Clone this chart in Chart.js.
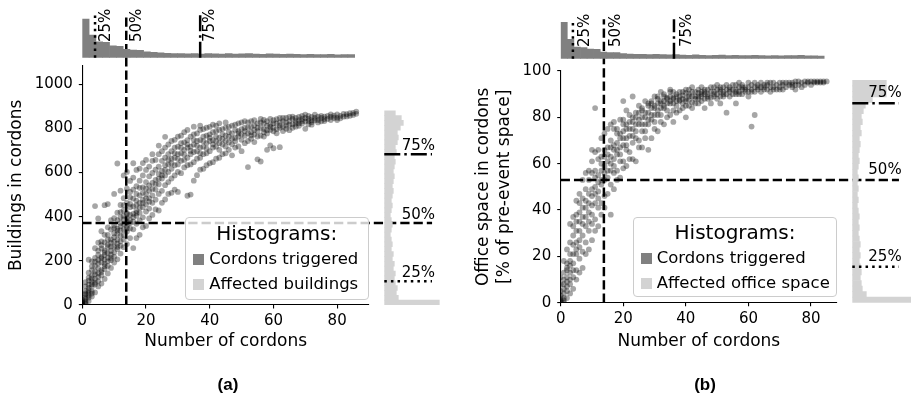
<!DOCTYPE html>
<html><head><meta charset="utf-8">
<script src="https://cdn.jsdelivr.net/npm/chart.js@4.4.1/dist/chart.umd.min.js"></script>
<style>
html,body{margin:0;padding:0;background:#fff;}
#wrap{position:relative;width:911px;height:404px;overflow:hidden;font-family:'DejaVu Sans',sans-serif;color:#000;}
canvas{position:absolute;left:0;top:0;}
.t{position:absolute;white-space:nowrap;line-height:1;font-size:15px;}
.rot{transform-origin:0 0;transform:rotate(-90deg);}
.leg{position:absolute;box-sizing:border-box;border:1px solid #ccc;border-radius:4px;background:rgba(255,255,255,0.8);}
.lt{position:absolute;white-space:nowrap;line-height:1;}
.patch{position:absolute;width:11px;height:11px;}
.cap{position:absolute;width:60px;text-align:center;font-family:'Liberation Sans',Arial,sans-serif;font-weight:bold;font-size:17px;line-height:1;}
</style></head><body><div id="wrap">
<canvas id="mainA" width="911" height="404"></canvas>
<canvas id="topA" width="911" height="404"></canvas>
<canvas id="rightA" width="911" height="404"></canvas>
<canvas id="mainB" width="911" height="404"></canvas>
<canvas id="topB" width="911" height="404"></canvas>
<canvas id="rightB" width="911" height="404"></canvas>

<div class="t rot" style="left:97.5px;top:41.7px;">25%</div>
<div class="t rot" style="left:129.2px;top:42px;">50%</div>
<div class="t rot" style="left:202.2px;top:42px;">75%</div>
<div class="t" style="left:401.7px;top:138.3px;">75%</div>
<div class="t" style="left:401.7px;top:206.8px;">50%</div>
<div class="t" style="left:401.7px;top:265.3px;">25%</div>

<div class="t rot" style="left:576.5px;top:46.7px;">25%</div>
<div class="t rot" style="left:607.5px;top:46.7px;">50%</div>
<div class="t rot" style="left:679.2px;top:46.7px;">75%</div>
<div class="t" style="left:868.3px;top:85.3px;">75%</div>
<div class="t" style="left:868.3px;top:162.3px;">50%</div>
<div class="t" style="left:868.3px;top:248.8px;">25%</div>

<div class="leg" style="left:185px;top:217px;width:183.5px;height:83px;"></div>
<div class="lt" style="left:185px;width:183.5px;text-align:center;top:223.1px;font-size:20px;">Histograms:</div>
<div class="patch" style="left:192.5px;top:253.5px;background:#808080;"></div>
<div class="lt" style="left:209.3px;top:250.7px;font-size:16.5px;">Cordons triggered</div>
<div class="patch" style="left:192.5px;top:278.5px;background:#d3d3d3;"></div>
<div class="lt" style="left:209.3px;top:275.7px;font-size:16.5px;">Affected buildings</div>

<div class="leg" style="left:633.3px;top:217.3px;width:203.4px;height:80px;"></div>
<div class="lt" style="left:633.3px;width:203.4px;text-align:center;top:222.4px;font-size:20px;">Histograms:</div>
<div class="patch" style="left:640.5px;top:252.5px;background:#808080;"></div>
<div class="lt" style="left:656.7px;top:249.7px;font-size:16.5px;">Cordons triggered</div>
<div class="patch" style="left:640.5px;top:277.5px;background:#d3d3d3;"></div>
<div class="lt" style="left:656.7px;top:274.7px;font-size:16.5px;">Affected office space</div>

<div class="cap" style="left:198px;top:375.6px;">(a)</div>
<div class="cap" style="left:675px;top:375.6px;">(b)</div>
</div>
<script>
// ---------------- data ----------------
const xTicks = [0, 20, 40, 60, 80];
const yTicksA = [0, 200, 400, 600, 800, 1000];
const yTicksB = [0, 20, 40, 60, 80, 100];

// buildings in cordons, listed per number of cordons (index = number of cordons)
const buildingsByCordons = [
 [0,4,9,18,2,12,25],
 [6,17,28,47,63,84,103,11,36,52],
 [18,43,57,78,92,124,146,205,33,66,110],
 [38,62,94,107,133,158,197,52,83,121,175],
 [57,93,118,152,177,213,257,448,101,139,196],
 [84,108,143,166,204,227,283,392,127,188,246],
 [97,134,158,193,218,256,288,334,149,212,271],
 [118,163,187,226,247,284,318,452,176,238,205],
 [143,177,214,236,273,297,352,457,198,262,318],
 [168,203,228,264,297,342,384,213,282,245],
 [192,218,263,287,324,348,393,503,238,307,361],
 [207,253,278,322,346,384,418,641,263,337,296],
 [233,268,313,338,372,397,453,518,288,357,421],
 [262,297,343,367,404,428,484,587,318,388,452],
 [276,333,358,394,417,463,527,603,348,412,376],
 [303,347,384,408,443,487,562,371,458,512],
 [258,343,377,413,447,523,577,642,398,482],
 [303,368,404,427,473,538,612,417,503,452],
 [318,383,418,463,497,563,618,442,531],
 [352,397,443,477,533,587,643,462,508],
 [358,423,457,503,557,612,657,483,528],
 [392,437,483,517,583,627,542,468],
 [408,463,497,553,598,653,683,526],
 [433,477,523,567,613,657,548],
 [428,503,547,593,627,683,722,572],
 [463,517,573,607,653,697,588],
 [478,543,587,633,667,713,762,612],
 [503,557,603,637,683,727,658],
 [508,573,617,663,697,743,642],
 [523,587,633,667,713,748,688],
 [512,603,637,683,717,763,662],
 [597,653,687,733,767,712],
 [623,657,703,737,783,682],
 [495,633,667,713,747,793,728],
 [500,637,683,717,763,698],
 [563,647,693,727,773,808,748],
 [588,663,697,743,777,722],
 [613,667,713,747,793,812,688],
 [617,683,717,763,797,742],
 [633,687,733,767,803,708],
 [642,697,743,773,807,758],
 [647,713,747,783,817,728],
 [663,717,763,787,813,742],
 [667,733,757,793,823,703],
 [683,727,773,797,752],
 [687,743,767,803,827,718],
 [703,737,783,807,762],
 [678,753,777,813,728],
 [713,757,793,817,742],
 [718,763,787,823,777],
 [697,773,797,827,748],
 [733,767,803,833,788],
 [625,743,777,803,827],
 [753,783,807,833,768],
 [738,793,813,837,772],
 [660,763,787,823,803],
 [650,767,803,827,843],
 [783,797,823,838,763],
 [703,777,813,833,792],
 [723,793,807,843,818],
 [710,787,823,837,803],
 [797,823,842,778],
 [715,803,827,847,813],
 [807,833,848,788],
 [813,827,847,798],
 [792,817,833,852],
 [818,843,853,803],
 [808,833,847,822],
 [823,837,852,812],
 [822,843,857,833],
 [798,832,847,862],
 [833,843,857,818],
 [817,837,852,828],
 [837,848,862],
 [838,853,827],
 [832,847,857],
 [842,853,833],
 [843,857],
 [838,852,863],
 [847,858],
 [848,863,838],
 [846,857],
 [853,866],
 [854,864],
 [857,869],
 [861,870],
 [866,876]
];

// office space in cordons [% of pre-event], per number of cordons
const officeByCordons = [
 [0,1,3,5,8,2,11,0.5],
 [0,2,6,8,13,18,4,10,1],
 [2,5,9,14,17,23,7,15,11],
 [4,8,13,16,21,26,34,10,18],
 [6,11,14,21,25,33,37,17,29],
 [10,14,21,26,31,38,44,23,35],
 [13,19,24,31,35,43,47,27,39],
 [15,22,29,34,41,45,53,37],
 [21,26,33,37,44,49,56,41],
 [23,31,35,43,47,53,57,39],
 [27,34,38,46,49,56,61,66,42],
 [31,36,43,47,54,57,65,84,50],
 [33,41,45,52,55,62,66,48],
 [38,43,51,53,60,63,71,57],
 [41,46,53,56,63,66,73,59],
 [47,54,57,64,67,75,61],
 [38,51,57,60,67,70,77,63],
 [49,56,59,66,68,75,78,62],
 [53,57,64,66,73,75,69],
 [54,61,64,71,73,79,67],
 [58,61,68,71,77,79,87,74],
 [59,66,68,75,77,83,71],
 [62,65,72,75,81,78],
 [62,69,72,78,80,89,75],
 [61,71,74,80,82,77],
 [67,70,77,79,85,82],
 [67,74,77,83,84,80],
 [71,74,80,82,87,77],
 [66,77,79,85,86,82],
 [71,79,81,86,87,84],
 [75,78,84,85,89,81],
 [74,81,83,88,89,86],
 [78,81,86,87,91,84],
 [77,84,85,89,90,87],
 [80,83,88,88.5,86],
 [81,86,87,91,92,89],
 [78,83,88,88.5,91,86],
 [82,85,89,90,87],
 [83,87,87.5,91,89],
 [84,86,89.5,91,88],
 [80,85,88,90.5,92,87],
 [85,87.5,90,92,89],
 [84,86.5,89,91,93],
 [86,89,91,88],
 [86,88,90.5,92,89],
 [87,89,91,93,90],
 [84,88,90,92,91],
 [88,90,92,89],
 [86,88.5,91,93],
 [89,91,93,90],
 [88,90,92,94],
 [86,89,91,93,92],
 [89,91,93,90],
 [82,90,92,94],
 [89,91,93,92],
 [90,92,94],
 [86,90,92,94,91],
 [91,93,95,90],
 [90,92,94,93],
 [91,93,92],
 [89,91,93,95],
 [76,92,94,91],
 [81,91,93,95],
 [92,94,93],
 [91,93,95],
 [92,94,93],
 [92,94,95],
 [91,93,95],
 [93,95,92],
 [92,94],
 [93,95,92],
 [92,94,95],
 [93,95],
 [94,95],
 [93,95,94],
 [92,94,95.5],
 [94,95.5],
 [93,95],
 [94,95.5],
 [95,95.5],
 [94,95.5],
 [95,95.5],
 [95,95.5],
 [95,95.5],
 [95.5,95],
 [95.5]
];

// histogram of cordons triggered (top margins)
const cordonBinWidthA = 2.1375;
const cordonHistA = [155,91,64,62,48,46,34,31,30,24,22,20,18,16,16,15,16,14,16,15,14,16,14,15,16,14,13,15,14,13,14,13,12,13,12,12,13,11,12,12];
const cordonBinWidthB = 2.105;
const cordonHistB = [145,77,46,44,38,37,26,24,24,20,18,17,17,16,17,16,15,16,14,13,15,13,12,13,14,12,13,12,12,13,12,11,12,11,12,12,13,11,11,10];

// histogram of affected buildings / office space (right margins), from low to high values
const buildingBinWidth = 22;
const buildingHist = [110,28,24,26,22,20,22,18,20,16,18,14,16,14,12,14,16,14,12,14,16,14,16,18,16,18,20,18,20,22,20,24,22,26,28,26,32,38,34,22];
const officeBinWidth = 2.4;
const officeHist = [130,28,20,18,16,18,16,14,16,14,16,14,12,14,12,14,12,10,12,10,12,10,12,10,12,14,12,14,16,14,18,16,20,18,22,26,40,68,68,68];

// quartiles (25%, 50%, 75%)
const cordonQuartA = [4.0, 13.8, 37.0];
const cordonQuartB = [3.9, 13.8, 36.2];
const buildingQuart = [108, 372, 683];
const officeQuart = [15.5, 53, 86.1];

// ---------------- drawing ----------------
Chart.defaults.font.family = "'DejaVu Sans', sans-serif";
Chart.defaults.color = '#000';
const LW = 2.5;
const DOT = [LW, LW * 1.65], DASH = [LW * 3.7, LW * 1.6], DASHDOT = [LW * 6.4, LW * 1.6, LW, LW * 1.6];
const base = {animation: false, responsive: false, devicePixelRatio: 1, events: [],
  plugins: {legend: {display: false}, tooltip: {enabled: false}}};

function toPoints(byX) {
  const pts = [];
  byX.forEach((ys, x) => ys.forEach(y => pts.push({x: x, y: y})));
  return pts;
}
function line(p1, p2, dash) {
  return {type: 'line', data: [p1, p2], borderColor: '#000', borderWidth: LW, borderDash: dash,
    pointRadius: 0, fill: false, clip: false, order: 0, tension: 0};
}
function axisCfg(max, ticks, title, fit, isX) {
  return {
    type: 'linear', min: 0, max: max, offset: false,
    afterBuildTicks: s => { s.ticks = ticks.map(v => ({value: v})); },
    ticks: {font: {size: 15}, color: '#000', padding: isX ? 3.5 : 6, maxRotation: 0, includeBounds: false,
      callback: v => String(v)},
    grid: {display: true, drawOnChartArea: false, drawTicks: true, tickLength: 3.5, color: '#000', lineWidth: 1.1, offset: false},
    border: {display: true, color: '#000', width: 1.1},
    title: {display: true, text: title, font: {size: 17}, color: '#000', padding: {top: 4, bottom: 4}},
    afterFit: s => { if (isX) s.height = fit; else s.width = fit; }
  };
}
function mainChart(id, byX, pad, xMax, yMax, yTicks, yTitle, yFit, xFit, extra) {
  new Chart(document.getElementById(id), {
    type: 'scatter',
    data: {datasets: [
      {data: toPoints(byX), backgroundColor: 'rgba(0,0,0,0.35)', borderWidth: 0, pointRadius: 2.9, order: 2},
      ...extra]},
    options: Object.assign({}, base, {
      layout: {padding: pad},
      scales: {
        x: axisCfg(xMax, xTicks, 'Number of cordons', xFit, true),
        y: axisCfg(yMax, yTicks, yTitle, yFit, false)
      }
    })
  });
}
function hiddenAxis(max) { return {type: 'linear', display: false, min: 0, max: max, offset: false, grid: {offset: false}}; }
function topHist(id, vals, bw, pad, xMax, yMax, quart) {
  new Chart(document.getElementById(id), {
    type: 'bar',
    data: {datasets: [
      {data: vals.map((v, i) => ({x: (i + 0.5) * bw, y: v})), backgroundColor: '#808080',
       borderWidth: 0, barPercentage: 1, categoryPercentage: 1, order: 1},
      line({x: quart[0], y: 0}, {x: quart[0], y: yMax}, DOT),
      line({x: quart[2], y: 0}, {x: quart[2], y: yMax}, DASHDOT)
    ]},
    options: Object.assign({}, base, {layout: {padding: pad},
      scales: {x: hiddenAxis(xMax), y: hiddenAxis(yMax)}})
  });
}
function rightHist(id, vals, bw, pad, xMax, yMax, quart, lineEnd) {
  new Chart(document.getElementById(id), {
    type: 'bar',
    data: {datasets: [
      {data: vals.map((v, i) => ({x: v, y: (i + 0.5) * bw})), backgroundColor: '#d3d3d3',
       borderWidth: 0, barPercentage: 1, categoryPercentage: 1, order: 1},
      line({x: 0, y: quart[0]}, {x: lineEnd, y: quart[0]}, DOT),
      line({x: 0, y: quart[2]}, {x: lineEnd, y: quart[2]}, DASHDOT)
    ]},
    options: Object.assign({}, base, {indexAxis: 'y', layout: {padding: pad},
      scales: {x: hiddenAxis(xMax), y: hiddenAxis(yMax)}})
  });
}

// panel (a)
const yMaxA = 1084, xMaxA = 90;
mainChart('mainA', buildingsByCordons, {left: 2.5, top: 65.7, right: 542, bottom: 47.8},
  xMaxA, yMaxA, yTicksA, 'Buildings in cordons', 79.8, 51.2, [
    line({x: cordonQuartA[1], y: 0}, {x: cordonQuartA[1], y: 1318}, DASH),
    line({x: 0, y: buildingQuart[1]}, {x: 109.8, y: buildingQuart[1]}, DASH)
  ]);
topHist('topA', cordonHistA, cordonBinWidthA, {left: 82.3, right: 542, top: 14, bottom: 346.3}, xMaxA, 175, cordonQuartA);
rightHist('rightA', buildingHist, buildingBinWidth, {left: 384.3, right: 466, top: 65.7, bottom: 99}, 121.4, yMaxA, buildingQuart, 95.4);

// panel (b)
const yMaxB = 100, xMaxB = 88.3;
mainChart('mainB', officeByCordons, {left: 469.8, top: 71, right: 74, bottom: 47.8},
  xMaxB, yMaxB, yTicksB, ['Office space in cordons', '[% of pre-event space]'], 90.9, 53.5, [
    line({x: cordonQuartB[1], y: 0}, {x: cordonQuartB[1], y: 122.3}, DASH),
    line({x: 0, y: officeQuart[1]}, {x: 108.1, y: officeQuart[1]}, DASH)
  ]);
topHist('topB', cordonHistB, cordonBinWidthB, {left: 560.7, right: 74, top: 19.3, bottom: 345.3}, xMaxB, 157.6, cordonQuartB);
rightHist('rightB', officeHist, officeBinWidth, {left: 852.3, right: 0, top: 71, bottom: 101.3}, 117.4, yMaxB, officeQuart, 93.4);
</script>
</body></html>
